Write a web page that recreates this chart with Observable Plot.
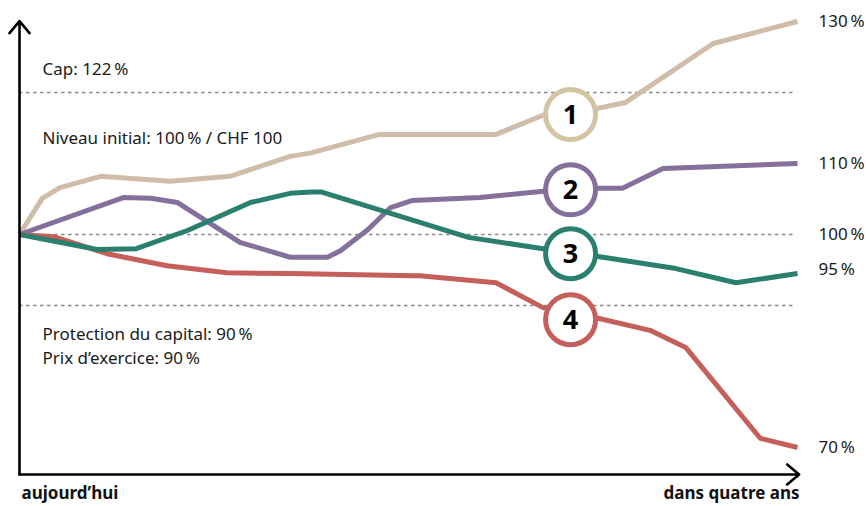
<!DOCTYPE html>
<html><head><meta charset="utf-8">
<script src="https://cdn.jsdelivr.net/npm/d3@7"></script>
<script src="https://cdn.jsdelivr.net/npm/@observablehq/plot@0.6"></script>
<style>
html,body{margin:0;padding:0;background:#fff;}
</style>
</head><body>
<div id="chart"></div>
<script>
// ---- data (x = months from today, y = level in % of initial) ----
const seriesNames = ["1", "2", "3", "4"];
const seriesColors = ["#cfbda9", "#85709b", "#2a7f6f", "#c45f5c"];
const circleColors = ["#d3c4a2", "#85709b", "#2a7f6f", "#c45f5c"];

const months1 = [0, 1.4, 2.5, 5, 9.3, 13, 16.7, 18, 22.2, 29.4, 32.3, 35.5, 37.4, 42.8, 48];
const values1 = [100, 105.1, 106.6, 108.2, 107.5, 108.2, 111.0, 111.5, 114.1, 114.1, 116.8, 117.7, 118.6, 126.9, 130];

const months2 = [0, 6.4, 8.1, 9.75, 13.6, 16.7, 19.0, 19.8, 21.5, 22.9, 24.25, 28.4, 32.3, 35.5, 37.2, 39.7, 48];
const values2 = [100, 105.2, 105.1, 104.5, 98.9, 96.8, 96.8, 97.7, 100.7, 103.8, 104.8, 105.2, 106.1, 106.5, 106.5, 109.3, 110];

const months3 = [0, 4.8, 7.2, 10.4, 14.25, 16.7, 18.0, 18.6, 27.7, 32.3, 35.7, 40.5, 44.2, 48];
const values3 = [100, 97.9, 98.0, 100.6, 104.5, 105.8, 106.0, 106.0, 99.6, 98.0, 96.9, 95.2, 93.2, 94.5];

const months4 = [0, 2.1, 5.4, 9.1, 12.8, 16.7, 24.3, 24.7, 29.4, 32.3, 35.7, 38.9, 41.1, 45.7, 48];
const values4 = [100, 99.7, 97.3, 95.6, 94.6, 94.5, 94.2, 94.2, 93.2, 89.7, 88.2, 86.5, 84.1, 71.3, 70];

const labelMonth = 34;
const labelValues = [116.9, 106.3, 97.3, 88.0];

const dashedLevels = [120, 100, 90];
const endLabels = [130, 110, 100, 95, 70];
const notes = ["Cap: 122\u2009%", "Niveau initial: 100\u2009% / CHF 100", "Protection du capital: 90\u2009%", "Prix d\u2019exercice: 90\u2009%"];
const xLabels = ["aujourd\u2019hui", "dans quatre ans"];

// ---- build tables ----
const allMonths = [months1, months2, months3, months4];
const allValues = [values1, values2, values3, values4];
const lineData = seriesNames.flatMap((name, i) =>
  allMonths[i].map((m, j) => ({series: name, month: m, value: allValues[i][j], color: seriesColors[i]}))
);
const drawOrder = ["1", "2", "4", "3"];
const labelData = seriesNames.map((name, i) => ({name, month: labelMonth, value: labelValues[i], color: circleColors[i]}));

const FONT = "'Noto Sans', 'Open Sans', sans-serif";
const yBottom = 66.2, yTop = 130.05;

const chart = Plot.plot({
  width: 866,
  height: 506,
  margin: 0,
  style: {fontFamily: FONT, fontSize: "17px", background: "white", color: "#1a1a1a"},
  x: {domain: [0, 48], range: [19, 797], axis: null},
  y: {domain: [yBottom, 130], range: [474, 21], axis: null},
  color: {type: "identity"},
  marks: [
    Plot.ruleY(dashedLevels, {x1: 0, x2: 47.85, y: d => d, stroke: "#8a8a8a", strokeWidth: 1.3, strokeDasharray: "3.5,3.5"}),
    ...drawOrder.map(name =>
      Plot.line(lineData.filter(d => d.series === name), {
        x: "month", y: "value", stroke: "color", strokeWidth: 5, strokeLinejoin: "round", strokeLinecap: "butt"
      })
    ),
    Plot.dot(labelData, {x: "month", y: "value", r: 25, fill: "white", stroke: "color", strokeWidth: 5}),
    Plot.text(labelData, {x: "month", y: "value", text: "name", fontSize: 27, fontWeight: "bold", fill: "black", lineAnchor: "middle", dy: 1}),
    // axes
    Plot.arrow([0], {x1: 0, y1: yBottom, x2: 0, y2: yTop, stroke: "black", strokeWidth: 2.6, headLength: 9, headAngle: 80}),
    Plot.arrow([0], {x1: 0, y1: yBottom, x2: 48.1, y2: yBottom, stroke: "black", strokeWidth: 2.6, headLength: 9, headAngle: 80}),
    // end labels
    Plot.text(endLabels, {x: 48, y: d => d, text: d => `${d}\u2009%`, textAnchor: "start", dx: 21, lineAnchor: "middle", fill: "#1a1a1a"}),
    // notes
    Plot.text([notes[0]], {x: 1.42, y: 122.4, text: d => d, textAnchor: "start", lineAnchor: "bottom", fill: "#1a1a1a"}),
    Plot.text([notes[1]], {x: 1.42, y: 112.7, text: d => d, textAnchor: "start", lineAnchor: "bottom", fill: "#1a1a1a"}),
    Plot.text([notes[2]], {x: 1.42, y: 85.1, text: d => d, textAnchor: "start", lineAnchor: "bottom", fill: "#1a1a1a"}),
    Plot.text([notes[3]], {x: 1.42, y: 81.7, text: d => d, textAnchor: "start", lineAnchor: "bottom", fill: "#1a1a1a"}),
    // x-axis labels
    Plot.text([xLabels[0]], {x: 0, y: 62.7, text: d => d, textAnchor: "start", lineAnchor: "bottom", dx: 2, fontWeight: "bold", fill: "#111"}),
    Plot.text([xLabels[1]], {x: 48, y: 62.7, text: d => d, textAnchor: "end", lineAnchor: "bottom", dx: 2, fontWeight: "bold", fill: "#111"})
  ]
});
document.getElementById("chart").appendChild(chart);
</script>
</body></html>
